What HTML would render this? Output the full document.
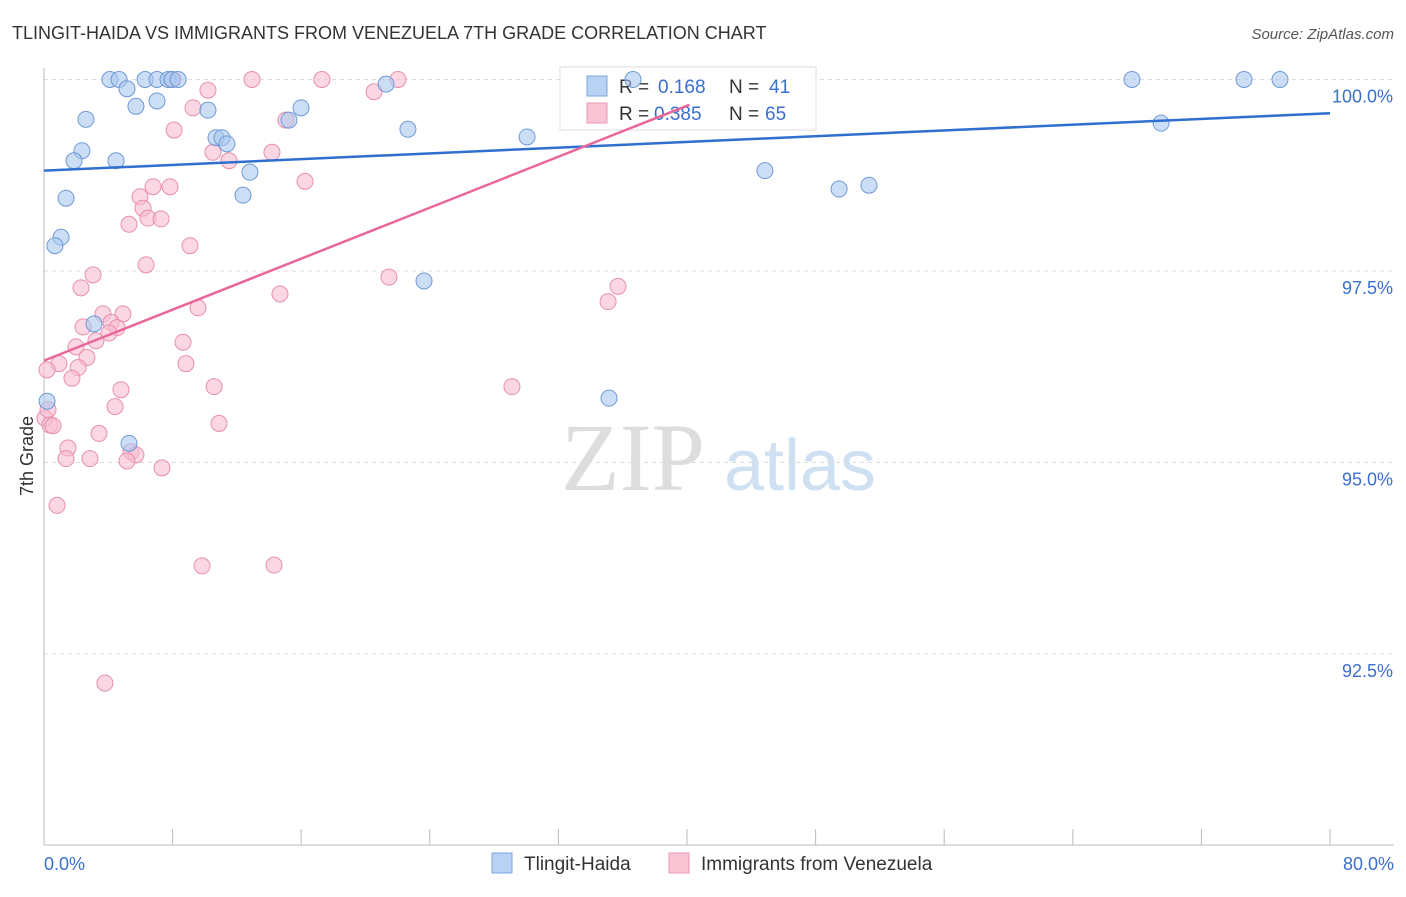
<!DOCTYPE html>
<html><head><meta charset="utf-8"><style>
body{margin:0;background:#fff;font-family:"Liberation Sans",sans-serif}
</style></head><body>
<svg id="chart" width="1406" height="892" xmlns="http://www.w3.org/2000/svg" font-family="Liberation Sans, sans-serif">
<text x="12" y="39" font-size="18" fill="#333">TLINGIT-HAIDA VS IMMIGRANTS FROM VENEZUELA 7TH GRADE CORRELATION CHART</text>
<text x="1394" y="39" font-size="15" fill="#555" text-anchor="end" font-style="italic">Source: ZipAtlas.com</text>
<g><text x="633" y="490" font-size="96" fill="#ddd" text-anchor="middle" font-family="Liberation Serif, serif">ZIP</text><text x="800" y="490" font-size="72" fill="#cfe0f3" text-anchor="middle">atlas</text></g>
<g id="grid"></g><g id="axes"></g>
<g>
<rect x="560" y="67" width="256" height="63" fill="#fff" fill-opacity="0.85" stroke="#ddd"/>
<rect x="587" y="76" width="20" height="20" fill="#b7d2f3" stroke="#7aa4dc"/>
<text x="619" y="93" font-size="19" fill="#333">R = </text><text x="658" y="93" font-size="19" fill="#3a6fd0">0.168</text>
<text x="729" y="93" font-size="19" fill="#333">N = </text><text x="769" y="93" font-size="19" fill="#3a6fd0">41</text>
<rect x="587" y="103" width="20" height="20" fill="#f9c4d4" stroke="#e99ab3"/>
<text x="619" y="120" font-size="19" fill="#333">R = </text><text x="654" y="120" font-size="19" fill="#3a6fd0">0.385</text>
<text x="729" y="120" font-size="19" fill="#333">N = </text><text x="765" y="120" font-size="19" fill="#3a6fd0">65</text>
</g>
<g id="marks"></g>
<text transform="translate(33,456) rotate(-90)" font-size="18" fill="#333" text-anchor="middle">7th Grade</text>
<g>
<rect x="492" y="853" width="20" height="20" fill="#b7d2f3" stroke="#7aa4dc"/>
<text x="524" y="870" font-size="19" fill="#333">Tlingit-Haida</text>
<rect x="669" y="853" width="20" height="20" fill="#f9c4d4" stroke="#e99ab3"/>
<text x="701" y="870" font-size="19" fill="#333">Immigrants from Venezuela</text>
</g>
</svg>
<script>
const blueX=[4.1,4.67,6.29,7.03,7.72,7.96,8.34,36.64,67.68,74.65,76.89,5.16,5.72,7.03,10.2,15.99,21.28,2.61,15.24,22.64,30.05,69.49,10.7,11.07,11.38,2.36,1.87,4.48,12.81,44.85,49.46,51.32,1.37,12.38,1.06,0.68,23.64,3.11,0.19,35.15,5.29];
const blueY=[100,100,100,100,100,100,100,100,100,100,100,99.88,99.65,99.72,99.6,99.63,99.94,99.48,99.47,99.35,99.25,99.43,99.24,99.24,99.16,99.07,98.94,98.94,98.79,98.81,98.57,98.62,98.45,98.49,97.94,97.83,97.37,96.81,95.8,95.84,95.25];
const pinkX=[12.94,17.29,22.02,8.02,10.2,20.53,9.27,15.05,8.09,10.51,11.51,14.18,16.24,6.78,7.84,5.97,6.16,6.47,7.28,5.29,9.08,6.35,3.05,2.3,21.46,35.71,35.09,14.68,9.58,4.91,3.67,4.17,2.43,4.54,4.04,3.23,8.65,1.99,2.67,0.93,2.12,8.83,0.19,1.74,4.79,10.58,29.11,4.42,0.06,0.25,0.37,0.56,10.89,3.42,1.49,5.41,5.72,1.37,2.86,5.16,7.34,0.81,9.83,14.31,3.79];
const pinkY=[100,100,100,100,99.86,99.84,99.63,99.47,99.34,99.05,98.94,99.05,98.67,98.6,98.6,98.47,98.32,98.19,98.18,98.11,97.83,97.58,97.45,97.28,97.42,97.3,97.1,97.2,97.02,96.94,96.94,96.83,96.77,96.76,96.69,96.59,96.57,96.51,96.37,96.29,96.24,96.29,96.21,96.1,95.95,95.99,95.99,95.73,95.58,95.69,95.49,95.48,95.51,95.38,95.19,95.14,95.1,95.05,95.05,95.02,94.93,94.44,93.65,93.66,92.12];
const blueTrend=[[0,98.81],[80,99.56]];
const pinkTrend=[[0,96.33],[40.15,99.67]];
const yTicks=[100,97.5,95,92.5];
const yTickLabels=["100.0%","97.5%","95.0%","92.5%"];
const xTicks=[0,8,16,24,32,40,48,56,64,72,80];
const ns="http://www.w3.org/2000/svg";
const X=v=>44+v*16.075, Y=v=>79.5+(100-v)*76.6;
function mk(p,t,a){const e=document.createElementNS(ns,t);for(const k in a)e.setAttribute(k,a[k]);document.getElementById(p).appendChild(e);return e;}
yTicks.forEach((t,i)=>{
 const g=mk('grid','line',{x1:44,x2:1394,y1:Y(t),y2:Y(t),stroke:'#ddd','stroke-dasharray':'4,4'});
 
 
 const l=mk('axes','text',{x:1393,y:Y(t)+23,'font-size':18,fill:'#3a6fd0','text-anchor':'end'});
 l.textContent=yTickLabels[i];
 
 
});
const ax=mk('axes','line',{x1:44,x2:44,y1:68,y2:845,stroke:'#bbb'});


const bx=mk('axes','line',{x1:44,x2:1394,y1:845,y2:845,stroke:'#bbb'});


xTicks.forEach(t=>{const k=mk('axes','line',{x1:X(t),x2:X(t),y1:829,y2:845,stroke:'#bbb'});
 
 });
[[0,"0.0%",'start',44],[80,"80.0%",'end',1394]].forEach(d=>{const l=mk('axes','text',{x:d[3],y:870,'font-size':18,fill:'#3a6fd0','text-anchor':d[2]});l.textContent=d[1];
 
 });
function pts(xs,ys,f,s,n){xs.forEach((x,i)=>{const c=mk('marks','circle',{cx:X(x),cy:Y(ys[i]),r:8,fill:f,'fill-opacity':0.6,stroke:s,'stroke-width':1});
 
 });}
pts(pinkX,pinkY,'#f7bcd0','#e88fab','venezuela-point');
pts(blueX,blueY,'#a9c8ef','#6f9ad6','tlingit-point');
const tb=mk('marks','line',{x1:X(blueTrend[0][0]),y1:Y(blueTrend[0][1]),x2:X(blueTrend[1][0]),y2:Y(blueTrend[1][1]),stroke:'#2f6fd0','stroke-width':2.5});


const tp=mk('marks','line',{x1:X(pinkTrend[0][0]),y1:Y(pinkTrend[0][1]),x2:X(pinkTrend[1][0]),y2:Y(pinkTrend[1][1]),stroke:'#e8679a','stroke-width':2.5});


</script>
</body></html>
